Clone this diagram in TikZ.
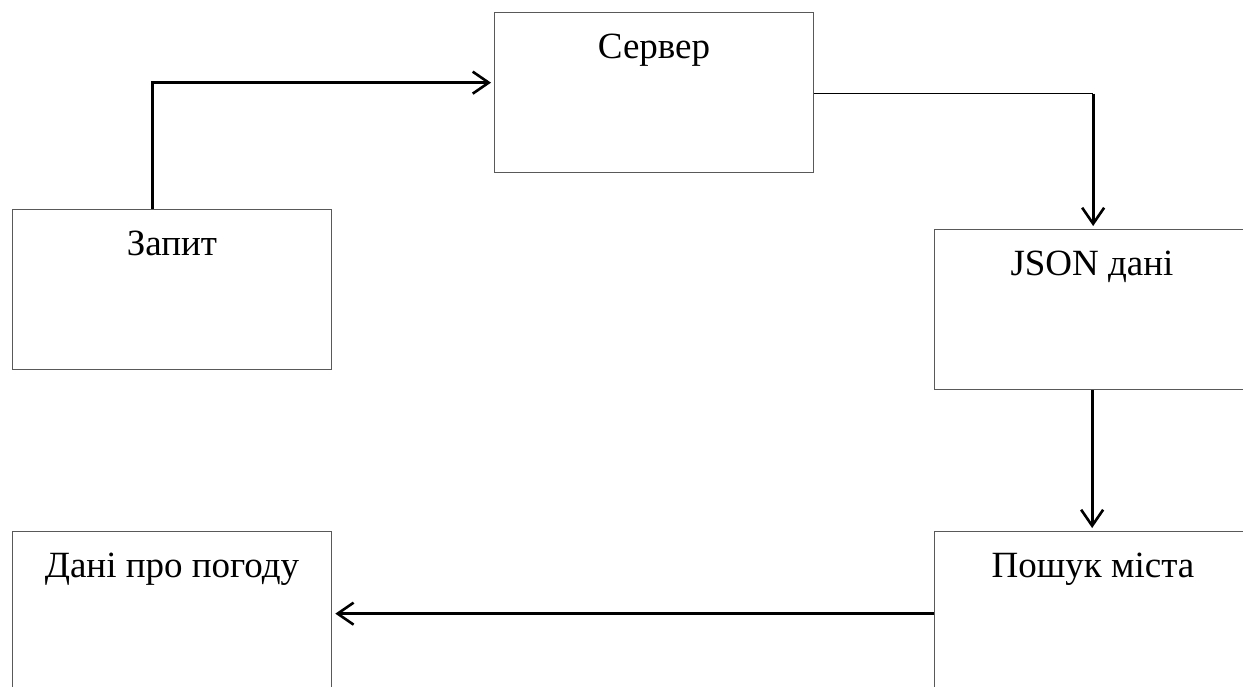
\documentclass[tikz,border=0pt]{standalone}
\usepackage{fontspec}
\setmainfont{Liberation Serif}
\usetikzlibrary{arrows.meta}
\begin{document}
\begin{tikzpicture}[x=1pt,y=-1pt,
  blk/.style={draw=black!65, line width=1.3pt, rectangle, minimum width=319pt, minimum height=160pt, inner sep=0pt, anchor=north west},
  lbl/.style={anchor=base, font=\fontsize{37}{44}\selectfont, inner sep=0pt},
  thick conn/.style={line width=3pt, -{Straight Barb[length=16pt,width=22pt,line width=2.6pt]}, shorten >=3pt},
  thin conn/.style={line width=1.2pt}]
\useasboundingbox (0,0) rectangle (1243,686);
\clip (0,0) rectangle (1243,686);
\node[blk] (zapyt) at (12,209) {};
\node[blk] (server) at (494,12) {};
\node[blk] (json) at (934,229) {};
\node[blk] (poshuk) at (934,531) {};
\node[blk] (dani) at (12,531) {};
\node[lbl] (tzapyt) at (172,255) {Запит};
\node[lbl] (tserver) at (654,58) {Сервер};
\node[lbl] (tjson) at (1092,275) {JSON дані};
\node[lbl] (tposhuk) at (1093,577) {Пошук міста};
\node[lbl] (tdani) at (172,577) {Дані про погоду};
\coordinate (c1) at ([xshift=-20pt]zapyt.north);
\coordinate (c2) at ([yshift=10pt]server.west);
\draw[thick conn] (c1) |- (c2);
\coordinate (s1) at ([yshift=-1pt]server.east);
\coordinate (s2) at ([xshift=-1pt]s1 -| json.north);
\draw[thin conn] (s1) -- (s2);
\coordinate (jn) at ([xshift=-1pt]json.north);
\draw[thick conn] (s2) -- (jn);
\coordinate (js) at ([xshift=-2pt]json.south);
\coordinate (pn) at ([xshift=-2pt]poshuk.north);
\draw[thick conn] (js) -- (pn);
\coordinate (pw) at ([yshift=-2pt]poshuk.west);
\coordinate (de) at ([yshift=-2pt]dani.east);
\draw[thick conn, line width=2.4pt] (pw) -- (de);
\end{tikzpicture}
\end{document}
